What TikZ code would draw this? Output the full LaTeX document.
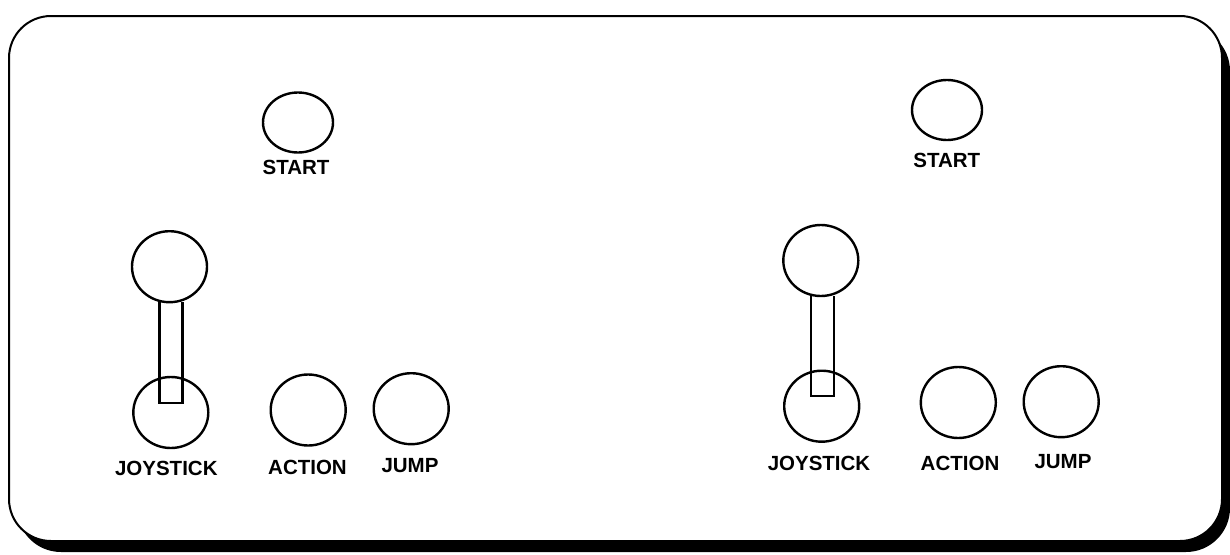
\documentclass[tikz,border=0pt]{standalone}
\usepackage{fontspec}
\setmainfont{Liberation Sans}
\usetikzlibrary{shapes.geometric}
\begin{document}
\begin{tikzpicture}[x=1pt,y=-1pt,
  btn/.style={draw,ellipse,line width=2.4pt,inner sep=0pt,minimum width=75pt,minimum height=71pt},
  startbtn/.style={draw,ellipse,line width=2.4pt,inner sep=0pt,minimum width=70pt,minimum height=60pt},
  lbl/.style={anchor=base,inner sep=0pt,font=\fontsize{20.5}{22}\selectfont\bfseries},
  shaft/.style={line width=2.4pt}]
\useasboundingbox (0,0) rectangle (1230,554);
% panel shadow and outline
\fill[black,rounded corners=44pt] (17,27) rectangle (1230,552);
\draw[fill=white,line width=2pt,rounded corners=42pt] (9,16) rectangle (1222,541);

% ---------- left player ----------
\node[startbtn] (ls) at (298,122.5) {};
\node[lbl] (lsl) at (296,174.3) {START};
\node[btn] (ljt) at (169.5,266.7) {};
\node[btn] (ljb) at (170.8,412.5) {};
\draw[shaft] (159.5,300.5) -- (159.5,402.7) -- (182.5,402.7) -- (182.5,301.5);
\node[btn] (la) at (308.2,410) {};
\node[btn] (lj) at (411.2,408.7) {};
\node[lbl] (ljl) at (166.3,475) {JOYSTICK};
\node[lbl] (lal) at (307.5,474.5) {ACTION};
\node[lbl] (ljml) at (410,472.5) {JUMP};

% ---------- right player ----------
\node[startbtn] (rs) at (947,110) {};
\node[lbl] (rsl) at (946.8,167.3) {START};
\node[btn] (rjt) at (820.8,260.5) {};
\node[btn] (rjb) at (821.7,406.2) {};
\draw[shaft] (811,294.5) -- (811,396) -- (834,396) -- (834,295.5);
\node[btn] (ra) at (958.3,402.5) {};
\node[btn] (rj) at (1061.2,401.7) {};
\node[lbl] (rjl) at (819,470.7) {JOYSTICK};
\node[lbl] (ral) at (960,470) {ACTION};
\node[lbl] (rjml) at (1063,468) {JUMP};
\end{tikzpicture}
\end{document}
